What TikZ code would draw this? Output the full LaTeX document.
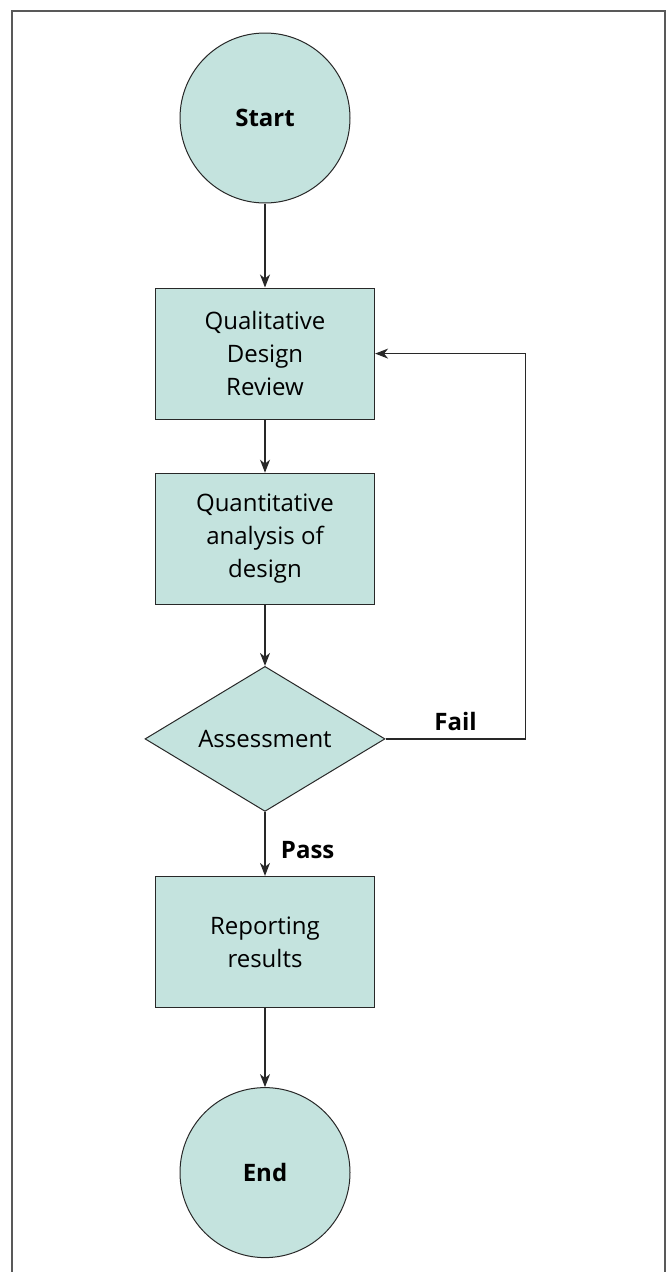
\documentclass[tikz,border=0pt]{standalone}
\usepackage{fontspec}
\setmainfont{Open Sans}
\usepackage{tikz}
\usetikzlibrary{shapes,arrows.meta,positioning,calc}
\definecolor{flowfill}{RGB}{196,227,222}
\definecolor{flowline}{RGB}{40,40,40}

\begin{document}
\begin{tikzpicture}[x=1pt, y=1pt, >={Stealth[length=13pt, width=10pt, inset=4pt]}, font=\fontsize{24}{33}\selectfont]
        \tikzset{
            terminal/.style={draw=flowline, fill=flowfill, circle, minimum size=170pt, inner sep=0pt, line width=1pt, font=\fontsize{24}{33}\selectfont\bfseries},
            block/.style={draw=flowline, fill=flowfill, rectangle, minimum width=219pt, minimum height=131pt, align=center, line width=1.2pt, inner sep=0pt},
            decision/.style={draw=flowline, fill=flowfill, diamond, aspect=1.65, minimum width=240pt, minimum height=145pt, inner sep=0pt, line width=1pt},
            line/.style={->, draw=flowline, line width=1.2pt},
            branch/.style={font=\fontsize{24}{33}\selectfont\bfseries},
        }

        \useasboundingbox (0,0) rectangle (667,-1272);
        % Frame (open at the bottom)
        \draw [line width=2pt, draw=black!65] (12,-1272) |- (665,-11) -- (665,-1272);

        % Start
        \node [terminal] (start) at (265,-118) {Start};

        % Qualitative review
        \node [block, below=84pt of start] (qual) {Qualitative\\Design\\Review};

        % Quantitative analysis
        \node [block, below=53pt of qual] (quant) {Quantitative\\analysis of\\design};

        % Assessment
        \node [decision, below=61pt of quant] (assess) {Assessment};

        % Reporting
        \node [block, below=64pt of assess] (report) {Reporting\\results};

        % End
        \node [terminal, below=79pt of report] (end) {End};

        % Connections
        \draw [line] (start) -- (qual);
        \draw [line] (qual) -- (quant);
        \draw [line] (quant) -- (assess);
        \draw [line] (assess) -- node [branch, pos=0.6, right=12pt] {Pass} (report);
        \draw [line] (report) -- (end);

        % Loop back on failure
        \draw [line] (assess.east) -- ++(140,0) node [branch, midway, above=4pt] {Fail} |- (qual.east);
\end{tikzpicture}
\end{document}
